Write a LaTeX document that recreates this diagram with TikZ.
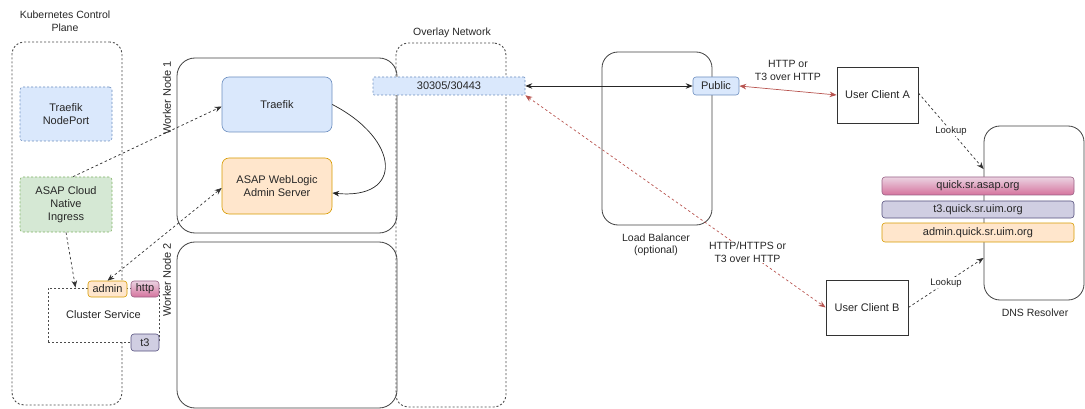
\documentclass[tikz,border=0pt]{standalone}
\usepackage{fontspec}
\setmainfont{Liberation Sans}
\usetikzlibrary{arrows.meta, positioning}

\definecolor{bluefill}{HTML}{DAE8FC}
\definecolor{blueline}{HTML}{6C8EBF}
\definecolor{greenfill}{HTML}{D5E8D4}
\definecolor{greenline}{HTML}{82B366}
\definecolor{orangefill}{HTML}{FFE6CC}
\definecolor{orangeline}{HTML}{D79B00}
\definecolor{pinktop}{HTML}{EBD3E2}
\definecolor{pinkbottom}{HTML}{D5739D}
\definecolor{pinkline}{HTML}{996185}
\definecolor{purplefill}{HTML}{D0CEE2}
\definecolor{purpleline}{HTML}{56517E}
\definecolor{redline}{HTML}{B85450}
\definecolor{textgray}{HTML}{262626}

\begin{document}
\begin{tikzpicture}[
        x=1pt, y=-1pt,
        font=\fontsize{11}{13}\selectfont,
        text=textgray,
        group/.style={rectangle, draw=black!75, line width=0.8pt, rounded corners=18pt, inner sep=0pt},
        dotgroup/.style={rectangle, draw=black!70, line width=0.9pt, dash pattern=on 2pt off 2pt,
                        rounded corners=12pt, inner sep=0pt},
        client/.style={rectangle, draw=black!80, line width=0.8pt, fill=white, minimum width=81pt,
                        minimum height=56pt, inner sep=0pt},
        colorbox/.style={rectangle, line width=0.6pt, rounded corners=3pt, inner sep=0pt, align=center},
        bluebox/.style={colorbox, draw=blueline, fill=bluefill},
        greenbox/.style={colorbox, draw=greenline, fill=greenfill},
        orangebox/.style={colorbox, draw=orangeline, fill=orangefill},
        pinkbox/.style={colorbox, draw=pinkline, top color=pinktop, bottom color=pinkbottom},
        purplebox/.style={colorbox, draw=purpleline, fill=purplefill},
        dashborder/.style={dash pattern=on 2pt off 2pt},
        label/.style={align=center, font=\fontsize{10.5}{12.5}\selectfont},
        smalllabel/.style={font=\fontsize{9.5}{11}\selectfont, fill=white, inner sep=1pt},
        arrow/.style={line width=0.7pt, -{Stealth[length=7pt, width=5.5pt]}},
        twoway/.style={line width=0.7pt, {Stealth[length=7pt, width=5.5pt]}-{Stealth[length=7pt, width=5.5pt]}},
        dotarrow/.style={arrow, draw=black!80, dash pattern=on 2.5pt off 2.5pt}
    ]
        \useasboundingbox (0,0) rectangle (1085,409);

        \node[dotgroup, minimum width=110pt, minimum height=363pt] (controlplane) at (67,223.5) {};
        \node[label] (controlplanetitle) at (65,21) {Kubernetes Control\\Plane};
        \node[bluebox, dashborder, minimum width=92pt, minimum height=54pt] (nodeport) at (66,114) {Traefik\\NodePort};
        \node[greenbox, dashborder, minimum width=92pt, minimum height=55pt] (ingress) at (66,204.5) {ASAP Cloud\\Native\\Ingress};

        \node[group, minimum width=220pt, minimum height=175pt] (worker1) at (287,145.5) {};
        \node[group, minimum width=220pt, minimum height=166pt] (worker2) at (287,325) {};
        \node[rotate=90] (worker1label) at (167,98) {Worker Node 1};
        \node[rotate=90] (worker2label) at (167,280) {Worker Node 2};
        \node[bluebox, rounded corners=7pt, minimum width=110pt, minimum height=55pt] (traefik) at (277,104.5) {Traefik};
        \node[orangebox, rounded corners=7pt, minimum width=110pt, minimum height=56pt] (adminserver) at (277,186) {ASAP WebLogic\\Admin Server};

        \node[rectangle, draw=black!70, line width=0.9pt, dash pattern=on 2pt off 2pt, fill=white,
              minimum width=111pt, minimum height=54pt] (clusterservice) at (103.5,315) {Cluster Service};
        \node[orangebox, minimum width=39pt, minimum height=16pt] (adminport) at (107.5,289) {admin};
        \node[pinkbox, minimum width=28pt, minimum height=16pt] (httpport) at (145,289) {http};
        \node[purplebox, minimum width=28pt, minimum height=17pt] (t3port) at (145,342.5) {t3};

        \node[dotgroup, minimum width=110pt, minimum height=364pt] (overlay) at (451,225) {};
        \node[label] (overlaytitle) at (452,33) {Overlay Network};
        \node[bluebox, dashborder, rounded corners=1pt, minimum width=152pt, minimum height=18pt] (nodeports) at (449,86) {30305/30443};

        \node[group, rounded corners=16pt, minimum width=110pt, minimum height=173pt] (loadbalancer) at (657,138.5) {};
        \node[label] (loadbalancerlabel) at (656,245) {Load Balancer\\(optional)};
        \node[bluebox, minimum width=46pt, minimum height=18pt] (public) at (716,86) {Public};

        \node[client] (clienta) at (877.5,95) {User Client A};
        \node[client, minimum width=82pt, minimum height=55pt] (clientb) at (867,307.5) {User Client B};

        \node[group, rounded corners=16pt, minimum width=100pt, minimum height=174pt] (dns) at (1034,213) {};
        \node[label] (dnslabel) at (1035,313) {DNS Resolver};
        \node[pinkbox, minimum width=192pt, minimum height=18pt] (quickdns) at (978,186) {quick.sr.asap.org};
        \node[purplebox, minimum width=192pt, minimum height=17pt] (t3dns) at (978,209.5) {t3.quick.sr.uim.org};
        \node[orangebox, minimum width=192pt, minimum height=19pt] (admindns) at (978,232.5) {admin.quick.sr.uim.org};

        \draw[dotarrow] ([xshift=7pt]ingress.north) -- ([yshift=-2pt]traefik.west);
        \draw[dotarrow] (ingress.south) -- ([xshift=-28pt]clusterservice.north);
        \draw[dotarrow, {Stealth[length=7pt, width=5.5pt]}-{Stealth[length=7pt, width=5.5pt]}]
            (adminport.north) -- ([yshift=-2pt]adminserver.west);
        \draw[arrow, draw=black!85] (traefik.east) .. controls +(68,35) and +(72,7) .. ([yshift=-7pt]adminserver.east);

        \draw[twoway, draw=black!85] (nodeports.east) -- (public.west);
        \draw[twoway, draw=redline] (public.east) -- node[label, midway, yshift=20pt] {HTTP or\\T3 over HTTP} (clienta.west);
        \draw[twoway, draw=redline, dash pattern=on 2.5pt off 2.5pt] (nodeports.south east) --
            node[label, pos=0.74, fill=white, inner sep=1pt] {HTTP/HTTPS or\\T3 over HTTP} (clientb.west);

        \draw[dotarrow] ([yshift=2pt]clienta.east) -- node[smalllabel, midway] {Lookup} ([yshift=44pt]dns.west);
        \draw[dotarrow] (clientb.east) -- node[smalllabel, midway] {Lookup} ([yshift=-45pt]dns.west);
    \end{tikzpicture}
\end{document}
